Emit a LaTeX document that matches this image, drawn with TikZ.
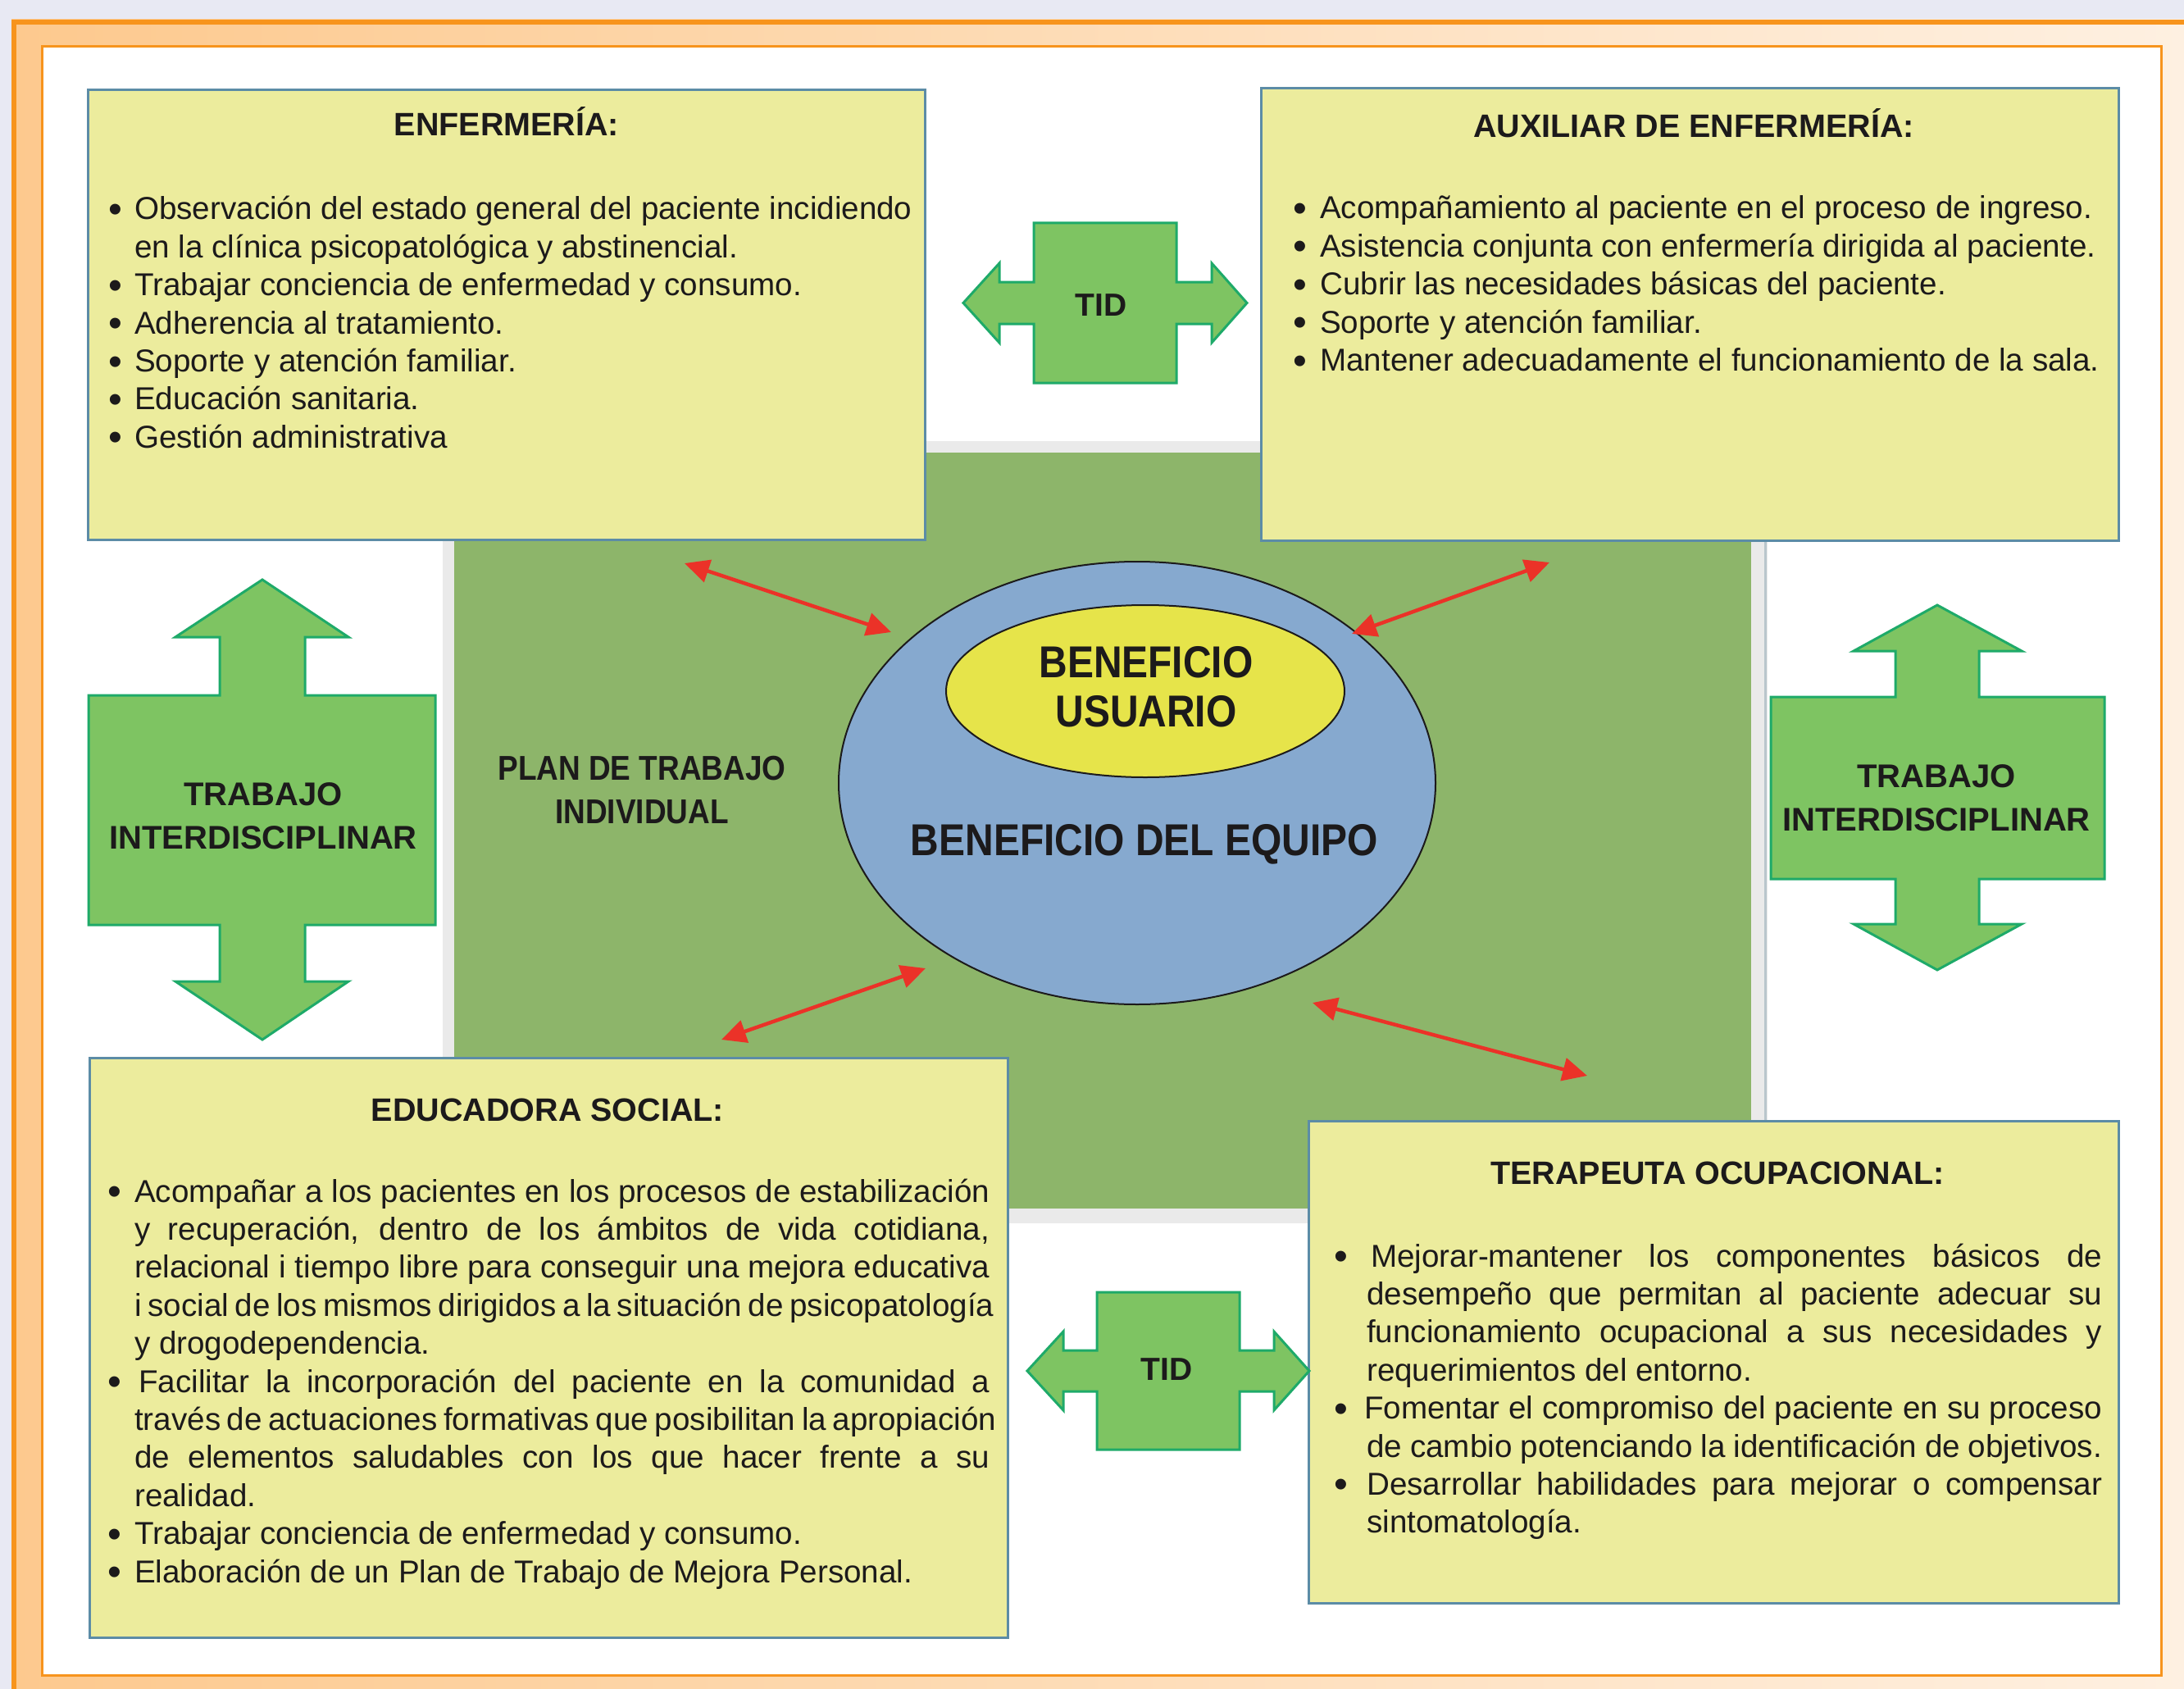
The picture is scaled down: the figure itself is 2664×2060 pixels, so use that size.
\documentclass[tikz,border=0pt]{standalone}
\usepackage{fontspec}
\setmainfont{Liberation Sans}
\newfontfamily\condb{Liberation Sans}[FakeStretch=0.88]
\usetikzlibrary{shapes.geometric,arrows.meta}

\definecolor{lav}{RGB}{232,233,243}
\definecolor{orangeline}{RGB}{247,148,29}
\definecolor{peachL}{RGB}{253,201,142}
\definecolor{peachR}{RGB}{254,240,225}
\definecolor{boxfill}{RGB}{236,236,157}
\definecolor{boxline}{RGB}{92,140,166}
\definecolor{greenbg}{RGB}{141,181,106}
\definecolor{graybd}{RGB}{234,234,234}
\definecolor{grayln}{RGB}{185,198,204}
\definecolor{blueell}{RGB}{134,169,207}
\definecolor{yellell}{RGB}{230,228,74}
\definecolor{arrfill}{RGB}{126,196,98}
\definecolor{arrline}{RGB}{30,170,105}
\definecolor{redarr}{RGB}{235,50,40}
\definecolor{ink}{RGB}{28,26,27}

\newcommand\bodyfont{\fontsize{38.6}{46.4}\selectfont}
\newcommand\hdrfont{\bfseries\fontsize{39.5}{47}\selectfont}
\newcommand\bulg[1]{\llap{\raisebox{-3.5pt}{\fontsize{48}{48}\selectfont\char"2022}\hskip#1}}
\newcommand\jl[2]{\hbox to #1{\spaceskip=.278em plus 1fil minus .08em\relax#2}}

\begin{document}
\begin{tikzpicture}[x=1pt,y=-1pt,
  infobox/.style={draw=boxline,line width=3pt,fill=boxfill,rectangle,inner sep=0pt,outer sep=0pt,anchor=north west},
  hdr/.style={anchor=base,inner sep=0pt,text=ink,font=\hdrfont},
  bodytext/.style={anchor=base west,inner sep=0pt,text=ink,font=\bodyfont},
  greenarrow/.style={fill=arrfill,draw=arrline,line width=3pt,line join=miter},
  arrowlabel/.style={anchor=base,inner sep=0pt,text=ink,font=\bfseries\fontsize{40}{48}\selectfont},
  centerlabel/.style={anchor=base,inner sep=0pt,text=ink,font=\condb\bfseries\fontsize{54.5}{60}\selectfont},
  planlabel/.style={anchor=base,inner sep=0pt,text=ink,font=\condb\bfseries\fontsize{42}{48}\selectfont},
  redconn/.style={draw=redarr,line width=4.5pt,{Triangle[length=30pt,width=28pt]}-{Triangle[length=30pt,width=28pt]}},
  ring/.style={ellipse,draw=ink,line width=2pt,inner sep=0pt}
]
\useasboundingbox (0,0) rectangle (2664,2060);

% ---- page background and frame ----
\fill[lav] (0,0) rectangle (2664,2060);
\shade[left color=peachL,right color=peachR] (14,24) rectangle (2664,2060);
\draw[orangeline,line width=6pt] (17,2060) -- (17,27) -- (2664,27);
\fill[white] (51,57) rectangle (2636,2043);
\draw[orangeline,line width=3pt] (51,57) rectangle (2636,2043);

% ---- central green field ----
\fill[graybd] (540,538) rectangle (2156,1492);
\draw[grayln,line width=3pt] (2153,538) -- (2153,1492);
\fill[greenbg] (554,552) rectangle (2136,1474);

% ---- information boxes ----
\node[infobox,minimum width=1021pt,minimum height=548pt] (enf) at (107,110) {};
\node[infobox,minimum width=1046pt,minimum height=551pt] (aux) at (1538,108) {};
\node[infobox,minimum width=1120pt,minimum height=707pt] (edu) at (109,1290) {};
\node[infobox,minimum width=988pt,minimum height=588pt] (ter) at (1596,1367) {};

% ---- green double arrows ----
\draw[greenarrow] (1261,272) -- (1435,272) -- (1435,344) -- (1478,344) -- (1478,321) -- (1521,369.5)
  -- (1478,418) -- (1478,395) -- (1435,395) -- (1435,467) -- (1261,467) -- (1261,395) -- (1219,395)
  -- (1219,418) -- (1175,369.5) -- (1219,321) -- (1219,344) -- (1261,344) -- cycle;
\draw[greenarrow] (1338,1576) -- (1512,1576) -- (1512,1647) -- (1554,1647) -- (1554,1624) -- (1597,1672)
  -- (1554,1720) -- (1554,1697) -- (1512,1697) -- (1512,1768) -- (1338,1768) -- (1338,1697) -- (1297,1697)
  -- (1297,1720) -- (1253,1672) -- (1297,1624) -- (1297,1647) -- (1338,1647) -- cycle;
\draw[greenarrow] (108,848) -- (268,848) -- (268,777) -- (214,777) -- (320,707) -- (425,777) -- (372,777)
  -- (372,848) -- (531,848) -- (531,1128) -- (372,1128) -- (372,1197) -- (425,1197) -- (320,1268)
  -- (214,1197) -- (268,1197) -- (268,1128) -- (108,1128) -- cycle;
\draw[greenarrow] (2160,850) -- (2312,850) -- (2312,794) -- (2261,794) -- (2363,738) -- (2466,794) -- (2414,794)
  -- (2414,850) -- (2567,850) -- (2567,1072) -- (2414,1072) -- (2414,1127) -- (2466,1127) -- (2363,1183)
  -- (2261,1127) -- (2312,1127) -- (2312,1072) -- (2160,1072) -- cycle;

\node[arrowlabel,font=\bfseries\fontsize{39}{46}\selectfont] (tidTop) at (1343,385) {TID};
\node[arrowlabel,font=\bfseries\fontsize{39}{46}\selectfont] (tidBot) at (1423,1683) {TID};
\node[arrowlabel] (tiL1) at (321,982) {TRABAJO};
\node[arrowlabel] (tiL2) at (321,1035) {INTERDISCIPLINAR};
\node[arrowlabel] (tiR1) at (2362,960) {TRABAJO};
\node[arrowlabel] (tiR2) at (2362,1013) {INTERDISCIPLINAR};

% ---- central ellipses ----
\node[ring,fill=blueell,minimum width=728pt,minimum height=540pt] (team) at (1387,955) {};
\node[ring,fill=yellell,minimum width=486pt,minimum height=210pt] (user) at (1397,843) {};
\node[centerlabel] (ben1) at (1398,826) {BENEFICIO};
\node[centerlabel] (ben2) at (1398,886) {USUARIO};
\node[centerlabel] (ben3) at (1396,1043) {BENEFICIO DEL EQUIPO};

\node[planlabel] (plan1) at (783,951) {PLAN DE TRABAJO};
\node[planlabel] (plan2) at (783,1004) {INDIVIDUAL};

% ---- red connectors ----
\coordinate (r1a) at (835,687);  \coordinate (r1b) at (1087,771);
\coordinate (r2a) at (1649,773); \coordinate (r2b) at (1890,686);
\coordinate (r3a) at (880,1268); \coordinate (r3b) at (1129,1181);
\coordinate (r4a) at (1601,1223); \coordinate (r4b) at (1936,1312);
\draw[redconn] (r1a) -- (r1b);
\draw[redconn] (r2a) -- (r2b);
\draw[redconn] (r3a) -- (r3b);
\draw[redconn] (r4a) -- (r4b);

% ---- box texts ----
\node[hdr] (enfH) at (618,166) {ENFERMERÍA:};
\node[bodytext] (enfB) at (164,268) {\vtop{%
  \hbox{\bulg{14.6pt}Observación del estado general del paciente incidiendo}
  \hbox{en la clínica psicopatológica y abstinencial.}
  \hbox{\bulg{14.6pt}Trabajar conciencia de enfermedad y consumo.}
  \hbox{\bulg{14.6pt}Adherencia al tratamiento.}
  \hbox{\bulg{14.6pt}Soporte y atención familiar.}
  \hbox{\bulg{14.6pt}Educación sanitaria.}
  \hbox{\bulg{14.6pt}Gestión administrativa}}};

\node[hdr] (auxH) at (2066,168) {AUXILIAR DE ENFERMERÍA:};
\node[bodytext] (auxB) at (1610,267) {\vtop{%
  \hbox{\bulg{15.6pt}Acompañamiento al paciente en el proceso de ingreso.}
  \hbox{\bulg{15.6pt}Asistencia conjunta con enfermería dirigida al paciente.}
  \hbox{\bulg{15.6pt}Cubrir las necesidades básicas del paciente.}
  \hbox{\bulg{15.6pt}Soporte y atención familiar.}
  \hbox{\bulg{15.6pt}Mantener adecuadamente el funcionamiento de la sala.}}};

\node[hdr] (eduH) at (668,1367) {EDUCADORA SOCIAL:};
\node[bodytext] (eduB) at (164,1466) {\vtop{%
  \jl{1043pt}{\bulg{15.6pt}Acompañar a los pacientes en los procesos de estabilización}
  \jl{1043pt}{y recuperación, dentro de los ámbitos de vida cotidiana,}
  \jl{1043pt}{relacional i tiempo libre para conseguir una mejora educativa}
  \jl{1043pt}{i social de los mismos dirigidos a la situación de psicopatología}
  \hbox{y drogodependencia.}
  \jl{1043pt}{\bulg{15.6pt}\hskip5pt Facilitar la incorporación del paciente en la comunidad a}
  \jl{1043pt}{través de actuaciones formativas que posibilitan la apropiación}
  \jl{1043pt}{de elementos saludables con los que hacer frente a su}
  \hbox{realidad.}
  \hbox{\bulg{15.6pt}Trabajar conciencia de enfermedad y consumo.}
  \hbox{\bulg{15.6pt}Elaboración de un Plan de Trabajo de Mejora Personal.}}};

\node[hdr] (terH) at (2095,1444) {TERAPEUTA OCUPACIONAL:};
\node[bodytext] (terB) at (1667,1545) {\vtop{%
  \jl{897pt}{\bulg{22.6pt}\hskip5pt Mejorar-mantener los componentes básicos de}
  \jl{897pt}{desempeño que permitan al paciente adecuar su}
  \jl{897pt}{funcionamiento ocupacional a sus necesidades y}
  \hbox{requerimientos del entorno.}
  \jl{897pt}{\bulg{22.6pt}\hskip-3pt Fomentar el compromiso del paciente en su proceso}
  \jl{897pt}{de cambio potenciando la identificación de objetivos.}
  \jl{897pt}{\bulg{22.6pt}Desarrollar habilidades para mejorar o compensar}
  \hbox{sintomatología.}}};
\end{tikzpicture}
\end{document}
